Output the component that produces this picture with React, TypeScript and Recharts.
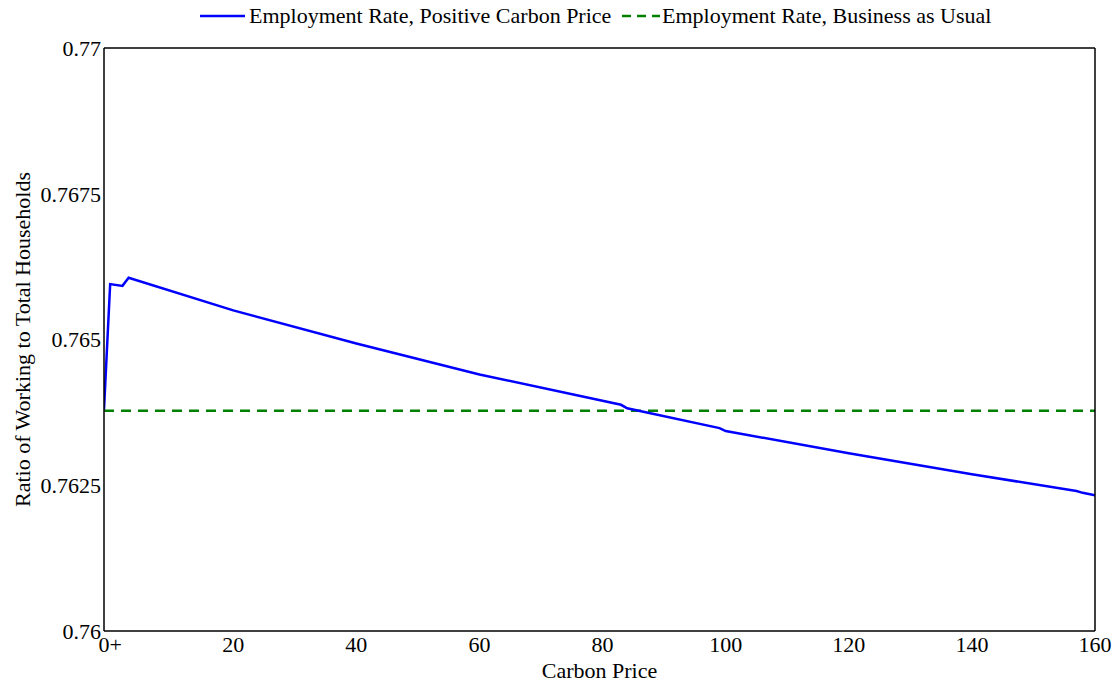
import React from 'react';
import { LineChart, Line, XAxis, YAxis } from 'recharts';

const carbonPrice = [-1, 0, 2, 3, 20, 40, 60, 83, 84, 99, 100, 120, 140, 157, 158, 160];
const employmentPositive = [0.7638, 0.76595, 0.76592, 0.76606, 0.7655, 0.76493, 0.7644, 0.76388, 0.76382, 0.76348, 0.76343, 0.76305, 0.76269, 0.7624, 0.76237, 0.76233];
const bauPrice = [-1, 160];
const employmentBAU = [0.76378, 0.76378];

const xTicks = [0, 20, 40, 60, 80, 100, 120, 140, 160];
const yTicks = [0.76, 0.7625, 0.765, 0.7675, 0.77];

const seriesNames = ['Employment Rate, Positive Carbon Price', 'Employment Rate, Business as Usual'];
const xLabel = 'Carbon Price';
const yLabel = 'Ratio of Working to Total Households';

const positiveData = carbonPrice.map((x, i) => ({ x, y: employmentPositive[i] }));
const bauData = bauPrice.map((x, i) => ({ x, y: employmentBAU[i] }));

const FONT = '"Liberation Serif", "Times New Roman", serif';
const BLUE = '#0000ff';
const GREEN = '#008000';
const X_DOMAIN: [number, number] = [-1, 160];
const Y_DOMAIN: [number, number] = [0.76, 0.77];

const YLabel = (props: any) => {
  const vb = props.viewBox || {};
  const cx = vb.x + 8;
  const cy = vb.y + vb.height / 2;
  return (
    <text x={cx} y={cy} transform={`rotate(-90, ${cx}, ${cy})`} textAnchor="middle" dominantBaseline="central" fontFamily={FONT} fontSize={22} fill="#000">
      {yLabel}
    </text>
  );
};

const XLabel = (props: any) => {
  const vb = props.viewBox || {};
  return (
    <text x={vb.x + vb.width / 2} y={vb.y + 47} textAnchor="middle" fontFamily={FONT} fontSize={22} fill="#000">
      {xLabel}
    </text>
  );
};

const tickStyle = { fontFamily: FONT, fontSize: 22, fill: '#000' };
const axisLineStyle = { stroke: '#000', strokeWidth: 1.5 };
const innerTickStyle = { stroke: '#555', strokeWidth: 1 };

export default function App() {
  return (
    <div style={{ position: 'absolute', left: 0, top: 0, width: 1120, height: 685, background: '#fff' }}>
      <svg width={1120} height={40} style={{ position: 'absolute', left: 0, top: 0 }}>
        <line x1={200} x2={245} y1={16} y2={16} stroke={BLUE} strokeWidth={2.5} />
        <text x={249} y={23} fontFamily={FONT} fontSize={22} fill="#000">{seriesNames[0]}</text>
        <line x1={622} x2={660} y1={16} y2={16} stroke={GREEN} strokeWidth={2.5} strokeDasharray="9 6" />
        <text x={662} y={23} fontFamily={FONT} fontSize={22} fill="#000">{seriesNames[1]}</text>
      </svg>
      <LineChart width={1120} height={685} margin={{ top: 48, right: 25, bottom: 24, left: 14 }}>
        <XAxis
          xAxisId="bottom"
          dataKey="x"
          type="number"
          domain={X_DOMAIN}
          ticks={xTicks}
          allowDataOverflow
          height={30}
          tickSize={0}
          tickMargin={5}
          tickFormatter={(v: number) => (v === 0 ? '0+' : String(v))}
          tick={tickStyle}
          tickLine={false}
          axisLine={axisLineStyle}
          label={<XLabel />}
        />
        <XAxis
          xAxisId="bottomIn"
          dataKey="x"
          type="number"
          domain={X_DOMAIN}
          ticks={xTicks}
          allowDataOverflow
          mirror
          height={30}
          tickSize={8}
          tick={false}
          tickLine={innerTickStyle}
          axisLine={false}
        />
        <XAxis
          xAxisId="top"
          dataKey="x"
          orientation="top"
          type="number"
          domain={X_DOMAIN}
          ticks={xTicks}
          allowDataOverflow
          mirror
          height={30}
          tickSize={8}
          tick={false}
          tickLine={innerTickStyle}
          axisLine={axisLineStyle}
        />
        <YAxis
          yAxisId="left"
          type="number"
          domain={Y_DOMAIN}
          ticks={yTicks}
          allowDataOverflow
          width={90}
          tickSize={0}
          tickMargin={3}
          tick={tickStyle}
          tickLine={false}
          axisLine={axisLineStyle}
          label={<YLabel />}
        />
        <YAxis
          yAxisId="leftIn"
          type="number"
          domain={Y_DOMAIN}
          ticks={yTicks}
          allowDataOverflow
          mirror
          width={60}
          tickSize={8}
          tick={false}
          tickLine={innerTickStyle}
          axisLine={false}
        />
        <YAxis
          yAxisId="right"
          orientation="right"
          type="number"
          domain={Y_DOMAIN}
          ticks={yTicks}
          allowDataOverflow
          mirror
          width={60}
          tickSize={8}
          tick={false}
          tickLine={innerTickStyle}
          axisLine={axisLineStyle}
        />
        <Line xAxisId="top" yAxisId="right" data={bauData} dataKey="y" stroke="none" dot={false} activeDot={false} legendType="none" isAnimationActive={false} />
        <Line xAxisId="bottomIn" yAxisId="leftIn" data={bauData} dataKey="y" stroke="none" dot={false} activeDot={false} legendType="none" isAnimationActive={false} />
        <Line
          xAxisId="bottom"
          yAxisId="left"
          data={bauData}
          dataKey="y"
          type="linear"
          stroke={GREEN}
          strokeWidth={2.5}
          strokeDasharray="10 7"
          dot={false}
          activeDot={false}
          isAnimationActive={false}
        />
        <Line
          xAxisId="bottom"
          yAxisId="left"
          data={positiveData}
          dataKey="y"
          type="linear"
          stroke={BLUE}
          strokeWidth={2.5}
          dot={false}
          activeDot={false}
          isAnimationActive={false}
        />
      </LineChart>
    </div>
  );
}
